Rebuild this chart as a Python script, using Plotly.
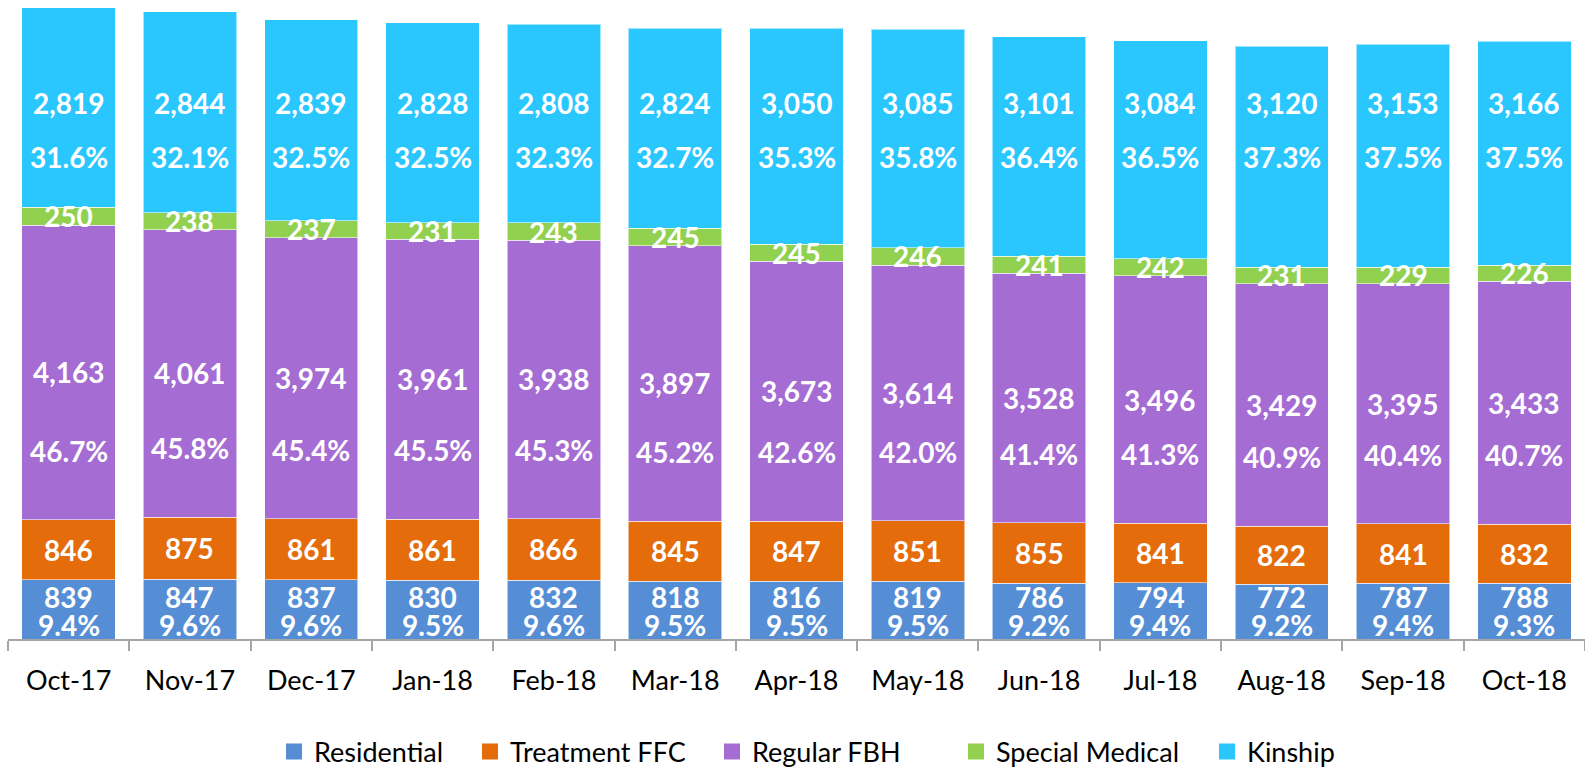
import plotly.graph_objects as go

months = ["Oct-17", "Nov-17", "Dec-17", "Jan-18", "Feb-18", "Mar-18", "Apr-18",
          "May-18", "Jun-18", "Jul-18", "Aug-18", "Sep-18", "Oct-18"]
residential = [839, 847, 837, 830, 832, 818, 816, 819, 786, 794, 772, 787, 788]
treatment_ffc = [846, 875, 861, 861, 866, 845, 847, 851, 855, 841, 822, 841, 832]
regular_fbh = [4163, 4061, 3974, 3961, 3938, 3897, 3673, 3614, 3528, 3496, 3429, 3395, 3433]
special_medical = [250, 238, 237, 231, 243, 245, 245, 246, 241, 242, 231, 229, 226]
kinship = [2819, 2844, 2839, 2828, 2808, 2824, 3050, 3085, 3101, 3084, 3120, 3153, 3166]
residential_pct = ["9.4%", "9.6%", "9.6%", "9.5%", "9.6%", "9.5%", "9.5%", "9.5%", "9.2%", "9.4%", "9.2%", "9.4%", "9.3%"]
regular_fbh_pct = ["46.7%", "45.8%", "45.4%", "45.5%", "45.3%", "45.2%", "42.6%", "42.0%", "41.4%", "41.3%", "40.9%", "40.4%", "40.7%"]
kinship_pct = ["31.6%", "32.1%", "32.5%", "32.5%", "32.3%", "32.7%", "35.3%", "35.8%", "36.4%", "36.5%", "37.3%", "37.5%", "37.5%"]

series = [
    ("Residential", residential, "#558ED5"),
    ("Treatment FFC", treatment_ffc, "#E46C0A"),
    ("Regular FBH", regular_fbh, "#A56CD3"),
    ("Special Medical", special_medical, "#92D050"),
    ("Kinship", kinship, "#2AC7FF"),
]

FONT = "Lato, Carlito, Calibri, sans-serif"
W, H = 1585, 770
# horizontal centre (px) of each legend square in the layout
legend_square_px = [294, 490, 732, 976, 1227]
legend_ids = ["legend", "legend2", "legend3", "legend4", "legend5"]

fig = go.Figure()
for name, vals, color in series:
    fig.add_trace(go.Bar(
        x=months, y=vals, name=name, showlegend=False,
        marker=dict(color=color, line=dict(color="rgba(255,255,255,0.55)", width=1)),
        hoverinfo="x+y+name",
    ))
# legend entries with larger square symbols, one legend box per entry
for (name, vals, color), lid in zip(series, legend_ids):
    fig.add_trace(go.Scatter(
        x=[None], y=[None], mode="markers", name=name, legend=lid,
        marker=dict(symbol="square", size=16, color=color),
    ))

totals = [sum(v) for v in zip(residential, treatment_ffc, regular_fbh, special_medical, kinship)]
top = max(totals)

lab = dict(showarrow=False, font=dict(family=FONT, size=28, color="white", weight="bold"),
           xanchor="center", yanchor="middle")

for i, m in enumerate(months):
    base_ffc = residential[i]
    base_fbh = residential[i] + treatment_ffc[i]
    base_sm = base_fbh + regular_fbh[i]
    # Residential
    fig.add_annotation(x=m, y=0, yshift=42, text=f"{residential[i]:,}", **lab)
    fig.add_annotation(x=m, y=0, yshift=14, text=residential_pct[i], **lab)
    # Treatment FFC
    fig.add_annotation(x=m, y=base_ffc + treatment_ffc[i] / 2, text=f"{treatment_ffc[i]:,}", **lab)
    # Regular FBH
    fig.add_annotation(x=m, y=base_fbh + regular_fbh[i] / 2, text=f"{regular_fbh[i]:,}", **lab)
    fig.add_annotation(x=m, y=base_fbh, yshift=69, text=regular_fbh_pct[i], **lab)
    # Special Medical
    fig.add_annotation(x=m, y=base_sm + special_medical[i] / 2, text=f"{special_medical[i]:,}", **lab)
    # Kinship
    fig.add_annotation(x=m, y=top, yshift=-95, text=f"{kinship[i]:,}", **lab)
    fig.add_annotation(x=m, y=top, yshift=-149, text=kinship_pct[i], **lab)

legend_style = dict(orientation="h", xanchor="left", xref="container",
                    y=(H - 752) / H, yanchor="middle", yref="container",
                    itemwidth=30, bgcolor="rgba(0,0,0,0)", borderwidth=0,
                    font=dict(family=FONT, size=27, color="#000000"),
                    itemclick=False, itemdoubleclick=False)
legends = {lid: dict(legend_style, x=(px - 20) / W) for lid, px in zip(legend_ids, legend_square_px)}

fig.update_layout(
    barmode="stack",
    bargap=0.23,
    width=W, height=H,
    margin=dict(l=8, r=0, t=0, b=131, autoexpand=False),
    plot_bgcolor="white", paper_bgcolor="white",
    font=dict(family=FONT, color="#000000"),
    xaxis=dict(
        type="category", showgrid=False, showline=True, linecolor="#A6A6A6", linewidth=1.5,
        ticks="outside", tickson="boundaries", ticklen=10, tickcolor="#A6A6A6", tickwidth=1.5,
        tickfont=dict(family=FONT, size=27, color="#000000"), ticklabelstandoff=17,
        fixedrange=True, automargin=False,
    ),
    yaxis=dict(range=[0, 639 / 0.07077], visible=False, showgrid=False, fixedrange=True),
    **legends,
)

fig.write_html("out.html", config=dict(displayModeBar=False),
               post_script="document.body.style.margin='0px';")
